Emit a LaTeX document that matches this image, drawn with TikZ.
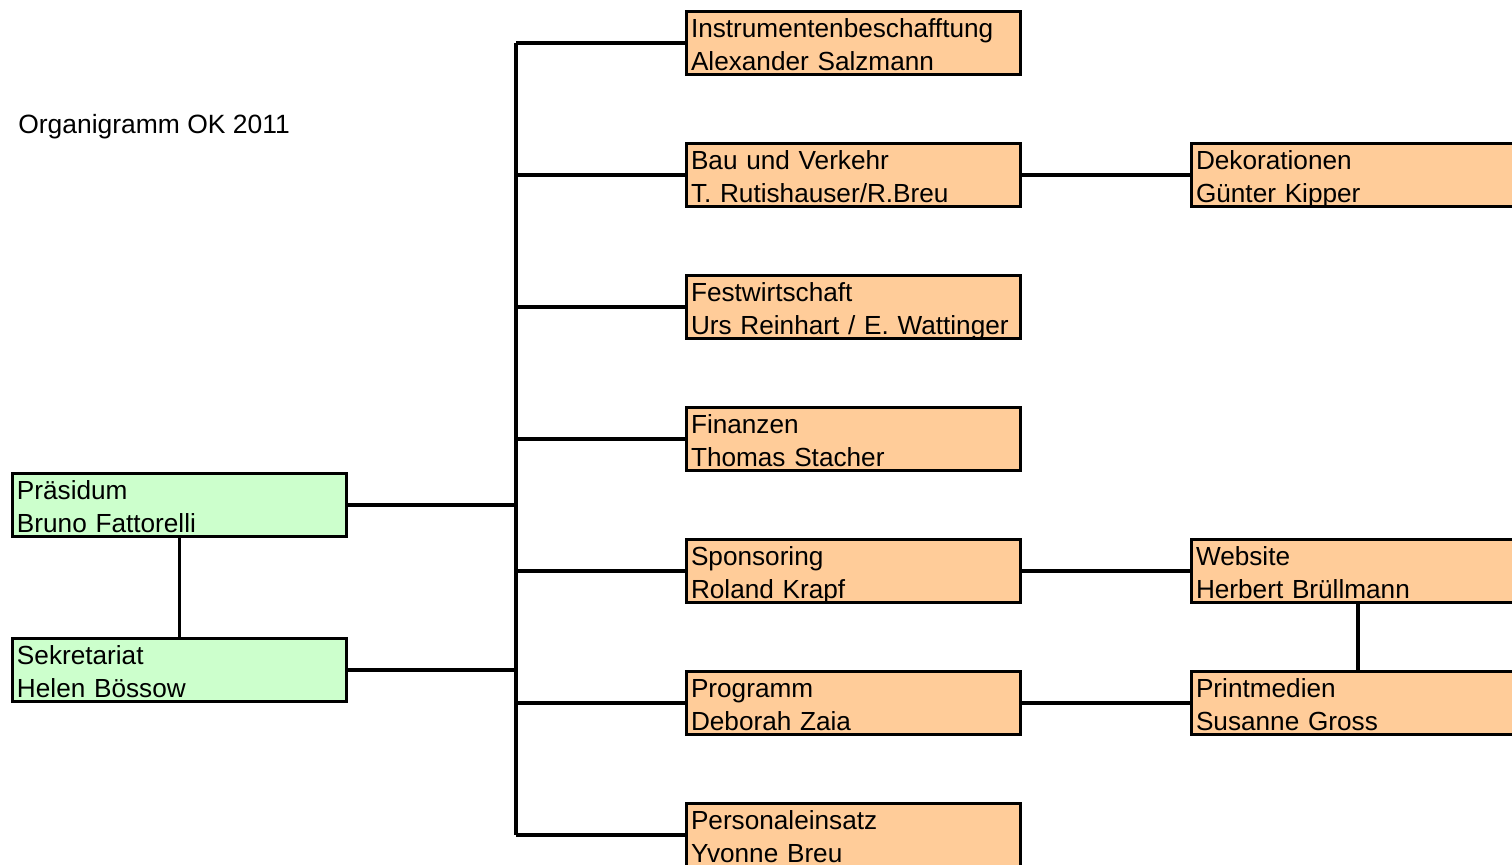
\documentclass[tikz,border=0pt]{standalone}
\usepackage{fontspec}
\setmainfont{Liberation Sans}
\usepackage{xcolor}
\usetikzlibrary{positioning}
\definecolor{gruen}{HTML}{CCFFCC}
\definecolor{orange}{HTML}{FFCC99}
\newcommand{\zweizeilig}[2]{\rule{0pt}{13.4pt}\smash{#1}\\\smash{#2}\rule[-1.1pt]{0pt}{1.1pt}}
\tikzset{
  box/.style={draw, line width=1.7pt, outer sep=0pt, anchor=north west,
    minimum width=6.68cm, minimum height=1.26cm, text width=6.5cm, align=left,
    inner xsep=2pt, inner ysep=0pt, font=\fontsize{14.9}{19}\selectfont},
  link/.style={line width=1.8pt}
}
\begin{document}
\begin{tikzpicture}[x=0.02cm, y=-0.02cm]
\useasboundingbox (0,0) rectangle (1512,865);
\clip (0,0) rectangle (1512,865);
\node[anchor=west, font=\fontsize{15.05}{19}\selectfont, inner sep=0pt] (titel) at (18,127) {Organigramm OK 2011};
% linke Spalte
\node[box, fill=gruen] (praes) at (12.5,473.5) {\zweizeilig{Präsidum}{Bruno Fattorelli}};
\node[box, fill=gruen] (sekr) at (12.5,638.5) {\zweizeilig{Sekretariat}{Helen Bössow}};
% mittlere Spalte
\node[box, fill=orange] (instr) at (686.5,11.5) {\zweizeilig{Instrumentenbeschafftung}{Alexander Salzmann}};
\node[box, fill=orange] (bau) at (686.5,143.5) {\zweizeilig{Bau und Verkehr}{T. Rutishauser/R.Breu}};
\node[box, fill=orange] (fest) at (686.5,275.5) {\zweizeilig{Festwirtschaft}{Urs Reinhart / E. Wattinger}};
\node[box, fill=orange] (fin) at (686.5,407.5) {\zweizeilig{Finanzen}{Thomas Stacher}};
\node[box, fill=orange] (spons) at (686.5,539.5) {\zweizeilig{Sponsoring}{Roland Krapf}};
\node[box, fill=orange] (prog) at (686.5,671.5) {\zweizeilig{Programm}{Deborah Zaia}};
\node[box, fill=orange] (pers) at (686.5,803.5) {\zweizeilig{Personaleinsatz}{Yvonne Breu}};
% rechte Spalte
\node[box, fill=orange] (deko) at (1191.5,143.5) {\zweizeilig{Dekorationen}{Günter Kipper}};
\node[box, fill=orange] (web) at (1191.5,539.5) {\zweizeilig{Website}{Herbert Brüllmann}};
\node[box, fill=orange] (print) at (1191.5,671.5) {\zweizeilig{Printmedien}{Susanne Gross}};
% Verbindungen
\coordinate (bustop) at (516,43);
\coordinate (busbot) at (516,835);
\draw[link] (bustop) -- (busbot);
\draw[link] (praes) -- (sekr);
\draw[link] (praes.east) -- (praes.east -| bustop);
\draw[link] (sekr.east) -- (sekr.east -| bustop);
\foreach \n in {instr,bau,fest,fin,spons,prog,pers}
  \draw[link] (\n.west -| bustop) -- (\n.west);
\draw[link] (bau) -- (deko);
\draw[link] (spons) -- (web);
\draw[link] (prog) -- (print);
\draw[link] (web.south -| 1358,0) -- (print.north -| 1358,0);
\end{tikzpicture}
\end{document}
